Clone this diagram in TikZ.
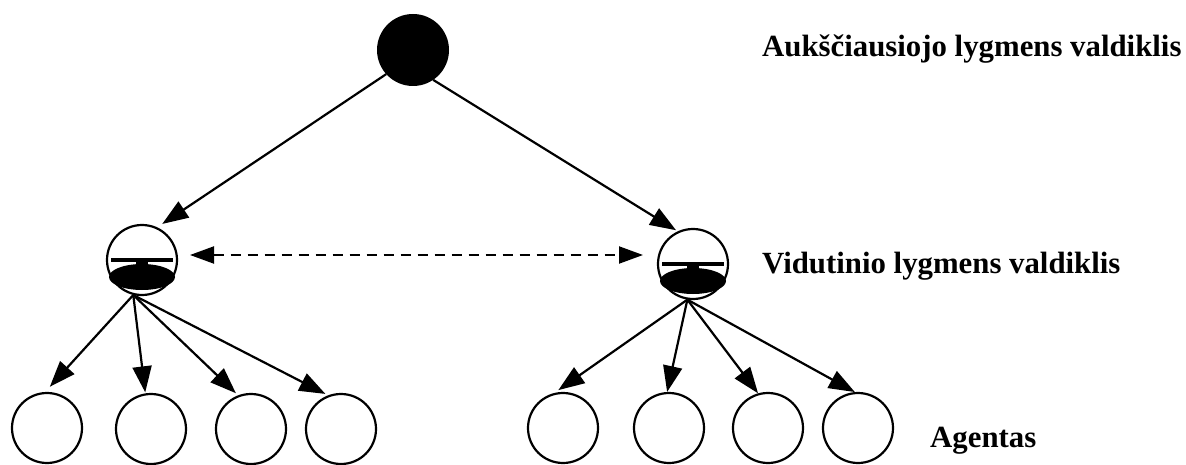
\documentclass[tikz,border=0pt]{standalone}
\usepackage{fontspec}
\setmainfont{Liberation Serif}
\usetikzlibrary{arrows.meta,calc}
\begin{document}
\begin{tikzpicture}[x=1pt,y=-1pt,
  agent/.style={circle,draw=black,line width=2.2pt,minimum size=70pt,inner sep=0pt,fill=white},
  topctl/.style={circle,draw=black,fill=black,line width=2pt,minimum size=70pt,inner sep=0pt},
  conn/.style={line width=2.2pt,-{Triangle[length=26pt,width=19pt]}},
  dconn/.style={line width=2pt,dash pattern=on 10pt off 7pt,{Triangle[length=24pt,width=17pt]}-{Triangle[length=24pt,width=17pt]}},
  lbl/.style={anchor=base west,inner sep=0pt,font=\fontsize{30.8}{34}\selectfont\bfseries}]
\useasboundingbox (0,0) rectangle (1186,465);
% top controller
\node[topctl] (top) at (413,50) {};
% middle controllers
\node[agent] (ml) at (142,260) {};
\node[agent] (mr) at (693,264) {};
\foreach \m in {ml,mr}{
  \fill[black] ($(\m.center)+(0,17)$) ellipse (33pt and 13pt);
  \fill[black] ($(\m.center)+(-31,-1.8)$) rectangle ($(\m.center)+(31,1.8)$);
  \fill[black] ($(\m.center)+(-6,1.5)$) rectangle ($(\m.center)+(6,6)$);
}
% agents
\node[agent] (l1) at (47,428) {};
\node[agent] (l2) at (151,429) {};
\node[agent] (l3) at (251,429) {};
\node[agent] (l4) at (341,429) {};
\node[agent] (r1) at (563,428) {};
\node[agent] (r2) at (669,428) {};
\node[agent] (r3) at (768,428) {};
\node[agent] (r4) at (858,428) {};
% connectors
\draw[conn,shorten >=6pt] (top.222) -- (ml.65);
\draw[conn,shorten >=2pt] (top.304) -- (mr.115);
\coordinate (ol) at (ml.256);
\coordinate (or) at (mr.261);
\draw[conn,shorten >=7pt] (ol) -- (l1.93);
\draw[conn,shorten >=1pt] (ol) -- (l2.99);
\draw[conn,shorten >=3pt] (ol) -- (l3.111);
\draw[conn,shorten >=3pt] (ol) -- (l4.111);
\draw[conn,shorten >=5pt] (or) -- (r1.104);
\draw[conn] (or) -- (r2.93);
\draw[conn] (or) -- (r3.106);
\draw[conn] (or) -- (r4.95);
\coordinate (dl) at (190,255);
\coordinate (dr) at (643,255);
\draw[dconn] (dl) -- (dr);
% labels
\node[lbl] (t1) at (762,57) {Aukščiausiojo lygmens valdiklis};
\node[lbl] (t2) at (762,273) {Vidutinio lygmens valdiklis};
\node[lbl] (t3) at (930,447) {Agentas};
\end{tikzpicture}
\end{document}
